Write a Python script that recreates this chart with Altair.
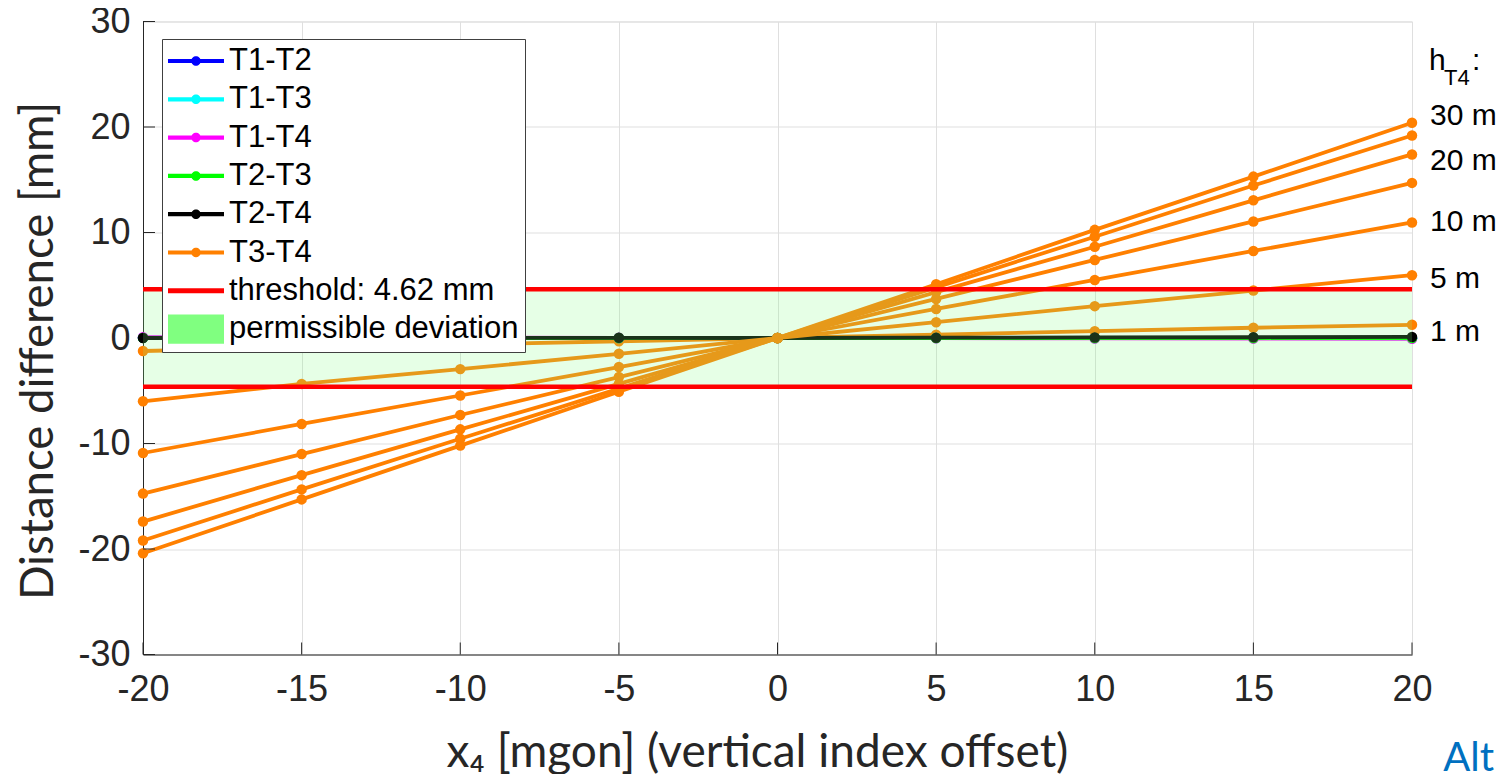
import altair as alt
import pandas as pd

# ---------------- data ----------------
x_mgon = [-20, -15, -10, -5, 0, 5, 10, 15, 20]

pair_names = ["T1-T2", "T1-T3", "T1-T4", "T2-T3", "T2-T4"]
t1_t2 = [0.02, 0.01, 0.01, 0.00, 0.00, 0.00, -0.01, -0.01, -0.02]
t1_t3 = [0.03, 0.02, 0.02, 0.01, 0.00, -0.01, -0.02, -0.02, -0.03]
t1_t4 = [0.08, 0.06, 0.04, 0.02, 0.00, -0.02, -0.04, -0.06, -0.08]
t2_t3 = [0.01, 0.01, 0.00, 0.00, 0.00, 0.00, 0.00, -0.01, -0.01]
t2_t4 = [0.00, 0.01, 0.02, 0.02, 0.00, 0.03, 0.05, 0.07, 0.10]
pair_values = [t1_t2, t1_t3, t1_t4, t2_t3, t2_t4]

h_levels = [1, 5, 10, 15, 20, 25, 30]
t3_t4_h1 = [-1.23, -0.93, -0.62, -0.31, 0.0, 0.31, 0.65, 0.97, 1.25]
t3_t4_h5 = [-6.00, -4.35, -2.95, -1.50, 0.0, 1.50, 3.02, 4.50, 5.95]
t3_t4_h10 = [-10.90, -8.15, -5.45, -2.75, 0.0, 2.75, 5.50, 8.25, 10.95]
t3_t4_h15 = [-14.75, -11.00, -7.30, -3.70, 0.0, 3.70, 7.40, 11.05, 14.70]
t3_t4_h20 = [-17.40, -13.00, -8.66, -4.35, 0.0, 4.35, 8.65, 13.05, 17.40]
t3_t4_h25 = [-19.20, -14.35, -9.55, -4.80, 0.0, 4.80, 9.60, 14.45, 19.20]
t3_t4_h30 = [-20.40, -15.30, -10.20, -5.10, 0.0, 5.10, 10.25, 15.30, 20.40]
t3_t4_values = [t3_t4_h1, t3_t4_h5, t3_t4_h10, t3_t4_h15, t3_t4_h20, t3_t4_h25, t3_t4_h30]

threshold = 4.62

legend_names = ["T1-T2", "T1-T3", "T1-T4", "T2-T3", "T2-T4", "T3-T4",
                "threshold: 4.62 mm", "permissible deviation"]
legend_colors = ["#0000ff", "#00ffff", "#ff00ff", "#00ff00", "#000000", "#ff8000",
                 "#ff0000", "#80ff80"]
series_color = dict(zip(legend_names, legend_colors))

h_label_text = ["30 m", "20 m", "10 m", "5 m", "1 m"]
h_label_y = [20.15, 15.94, 10.10, 4.78, -0.30]

x_ticks = [-20, -15, -10, -5, 0, 5, 10, 15, 20]
y_ticks = [-30, -20, -10, 0, 10, 20, 30]

# ---------------- tables ----------------
rows = []
for name, vals in zip(pair_names, pair_values):
    for xv, yv in zip(x_mgon, vals):
        rows.append({"series": name, "h": 0, "x": xv, "y": yv})
for h, vals in zip(h_levels, t3_t4_values):
    for xv, yv in zip(x_mgon, vals):
        rows.append({"series": "T3-T4", "h": h, "x": xv, "y": yv})
df = pd.DataFrame(rows)

band_df = pd.DataFrame({"x": [x_mgon[0]], "x2": [x_mgon[-1]],
                        "y": [-threshold], "y2": [threshold]})
thr_df = pd.DataFrame({"x": [x_mgon[0], x_mgon[0]], "x2": [x_mgon[-1], x_mgon[-1]],
                       "y": [threshold, -threshold]})
lab_df = pd.DataFrame({"x": [x_mgon[-1]] * len(h_label_text), "y": h_label_y,
                       "label": h_label_text})
hdr_df = pd.DataFrame({"x": [x_mgon[-1]], "y": [25.4], "y_sub": [24.0]})
xt_df = pd.DataFrame({"x": x_ticks})
yt_df = pd.DataFrame({"y": y_ticks})
leg_df = pd.DataFrame({"series": legend_names, "x": [0] * 8, "y": [0] * 8})
alt_df = pd.DataFrame({"t": ["Alt"]})

# ---------------- scales / axes ----------------
W, H = 1269, 633
AX = "#262626"

xs = alt.Scale(domain=[-20, 20], nice=False, zero=False)
ys = alt.Scale(domain=[-30, 30], nice=False, zero=False)

x_axis = alt.Axis(values=x_ticks, labelExpr="'' + datum.value",
                  title="x₄ [mgon] (vertical index offset)",
                  titleFont="Lato", titleFontSize=46, titleFontWeight="normal",
                  titleColor=AX, titleX=614, titleY=111.5, titleBaseline="alphabetic",
                  labelFont="Liberation Sans", labelFontSize=36, labelColor=AX,
                  labelPadding=18, labelFlush=False, labelOverlap=False,
                  tickSize=0, domainColor=AX, domainWidth=1,
                  grid=True, gridColor="#dfdfdf", gridWidth=1)
y_axis = alt.Axis(values=y_ticks, labelExpr="'' + datum.value",
                  title="Distance difference [mm]",
                  titleFont="Lato", titleFontSize=45.5, titleFontWeight="normal",
                  titleColor=AX, titleX=-91, titleY=329, titleAngle=-90,
                  titleBaseline="alphabetic", titleAlign="center",
                  labelFont="Liberation Sans", labelFontSize=36, labelColor=AX,
                  labelPadding=13, labelFlush=False, labelOverlap=False,
                  tickSize=0, domainColor=AX, domainWidth=1,
                  grid=True, gridColor="#dfdfdf", gridWidth=1)

X = alt.X("x:Q", scale=xs, axis=x_axis)
Y = alt.Y("y:Q", scale=ys, axis=y_axis)

LW = 3.8
PS = 110


def series_layers(data, col):
    line = alt.Chart(data).mark_line(strokeWidth=LW, color=col).encode(x=X, y=Y, detail="h:N")
    pts = alt.Chart(data).mark_circle(size=PS, opacity=1, color=col).encode(x=X, y=Y)
    return [line, pts]


layers = []
# orange h = 1 first (drawn under the near-zero pairs)
layers += series_layers(df[(df.series == "T3-T4") & (df.h == 1)], series_color["T3-T4"])
for name in pair_names:
    layers += series_layers(df[df.series == name], series_color[name])
layers += series_layers(df[(df.series == "T3-T4") & (df.h > 1)], series_color["T3-T4"])

band = alt.Chart(band_df).mark_rect(opacity=0.2, color=series_color["permissible deviation"]).encode(
    x=X, x2="x2:Q", y=Y, y2="y2:Q")
thr = alt.Chart(thr_df).mark_rule(strokeWidth=4.5, color=series_color["threshold: 4.62 mm"]).encode(
    x=X, x2="x2:Q", y=Y)

xticks = alt.Chart(xt_df).mark_rule(color=AX, strokeWidth=1).encode(
    x=X, y=alt.value(H), y2=alt.value(H - 12))
yticks = alt.Chart(yt_df).mark_rule(color=AX, strokeWidth=1).encode(
    y=Y, x=alt.value(0), x2=alt.value(12))

labels = alt.Chart(lab_df).mark_text(
    align="left", baseline="alphabetic", dx=18, font="Liberation Sans",
    fontSize=30, color="#000000").encode(x=X, y=Y, text="label:N")
hdr_h = alt.Chart(hdr_df).mark_text(
    align="left", baseline="alphabetic", dx=17, font="Liberation Sans",
    fontSize=30, color="#000000", text="h").encode(x=X, y=Y)
hdr_sub = alt.Chart(hdr_df).mark_text(
    align="left", baseline="alphabetic", dx=32, font="Liberation Sans",
    fontSize=22, color="#000000", text="T4").encode(x=X, y=alt.Y("y_sub:Q", scale=ys, axis=y_axis))
hdr_colon = alt.Chart(hdr_df).mark_text(
    align="left", baseline="alphabetic", dx=60, font="Liberation Sans",
    fontSize=30, color="#000000", text=":").encode(x=X, y=Y)

alt_txt = alt.Chart(alt_df).mark_text(
    align="right", baseline="alphabetic", font="Lato", fontSize=40,
    color="#0070c0").encode(x=alt.value(1351), y=alt.value(749.5), text="t:N")

# legend carrier: no visible marks, legend built from explicit scale domains
line_dot = ("M-1,-0.075H1V0.075H-1Z M0.17,0A0.17,0.17,0,1,1,-0.17,0"
            "A0.17,0.17,0,1,1,0.17,0Z")
red_line = "M-1,-0.09H1V0.09H-1Z"
green_box = "M-1,-0.52H1V0.52H-1Z"
shape_range = [line_dot] * 6 + [red_line, green_box]

leg = alt.Legend(orient="none", legendX=19, legendY=17.5, symbolSize=3136,
                 clipHeight=32, rowPadding=6.3, labelFont="Liberation Sans",
                 labelFontSize=31, labelColor="#000000", labelOffset=5,
                 labelExpr="datum.label + '\u2008'",
                 padding=6, strokeColor="#404040", fillColor="#ffffff",
                 symbolStrokeWidth=0, symbolOpacity=1, labelLimit=0)
legend_layer = alt.Chart(leg_df).transform_filter("false").mark_point(
    filled=True, opacity=1).encode(
    x=X, y=Y,
    color=alt.Color("series:N", scale=alt.Scale(domain=legend_names, range=legend_colors),
                    legend=leg, title=None),
    shape=alt.Shape("series:N", scale=alt.Scale(domain=legend_names, range=shape_range),
                    legend=leg, title=None))

layers += [band, thr, xticks, yticks, labels, hdr_h, hdr_sub, hdr_colon, alt_txt, legend_layer]

chart = alt.layer(*layers).properties(
    width=W, height=H,
    padding={"left": 135, "top": 13.5, "right": 84, "bottom": 119.5},
    autosize=alt.AutoSizeParams(type="none"),
).configure_view(stroke="transparent").configure(background="white")

chart.save("out.html", embed_options={"renderer": "svg", "actions": False})
